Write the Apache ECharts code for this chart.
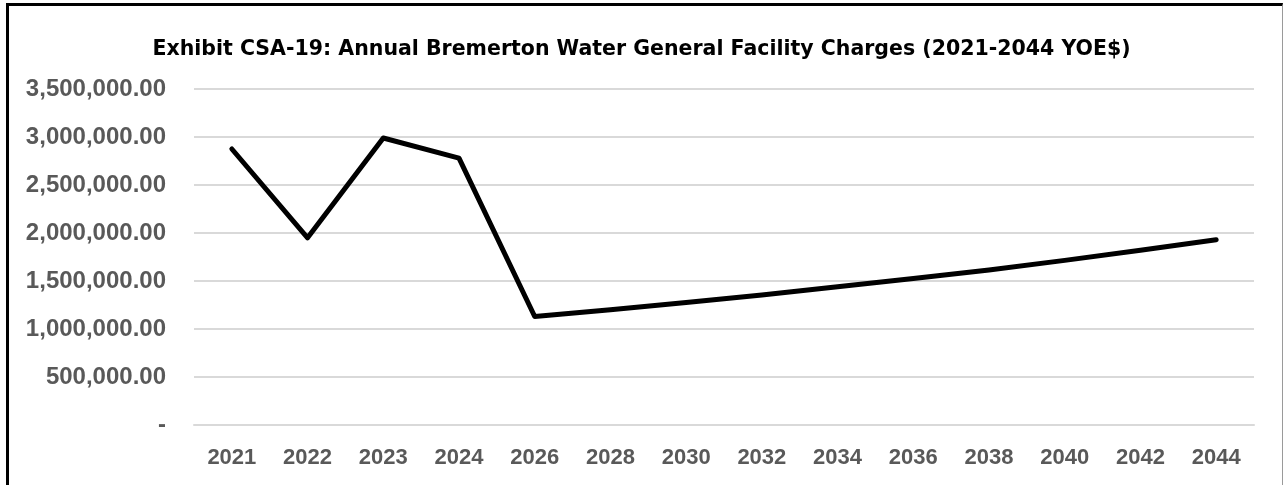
<!DOCTYPE html>
<html>
<head>
<meta charset="utf-8">
<script src="https://cdn.jsdelivr.net/npm/echarts@6/dist/echarts.min.js"></script>
<style>
  html, body { margin: 0; padding: 0; background: #fff; }
  .wrap { position: relative; width: 1283px; height: 485px; overflow: hidden; }
  #main { position: absolute; left: 0; top: 0; width: 1283px; height: 485px; }
  .frame {
    position: absolute; left: 6px; top: 3px; width: 1273px; height: 500px;
    border-left: 3px solid #000; border-top: 3px solid #000; border-right: 1px solid #9a9a9a;
    pointer-events: none;
  }
</style>
</head>
<body>
<div class="wrap">
  <div id="main"></div>
  <div class="frame"></div>
</div>
<script>
// categories on the x axis (2025, 2027... are skipped in the source)
const years = ['2021', '2022', '2023', '2024', '2026', '2028', '2030', '2032', '2034', '2036', '2038', '2040', '2042', '2044']
// annual general facility charges, YOE$
const charges = [2875000, 1950000, 2990000, 2780000, 1130000, 1200000, 1275000, 1355000, 1440000, 1525000, 1615000, 1715000, 1820000, 1930000]

const yMax = 3500000
const yStep = 500000

function money(v) {
  if (v === 0) return '-'
  const s = Math.round(v).toString().replace(/\B(?=(\d{3})+(?!\d))/g, ',')
  return s + '.00'
}

const chart = echarts.init(document.getElementById('main'))

const option = {
  animation: false,
  title: {
    text: 'Exhibit CSA-19: Annual Bremerton Water General Facility Charges (2021-2044 YOE$)',
    left: 'center',
    top: 34,
    textStyle: {
      fontFamily: 'DejaVu Sans',
      fontWeight: 'bold',
      fontSize: 20.5,
      color: '#000'
    }
  },
  grid: {
    left: 194,
    right: 29,
    top: 89,
    bottom: 60,
    containLabel: false
  },
  xAxis: {
    type: 'category',
    data: years,
    boundaryGap: true,
    axisLine: { lineStyle: { color: '#d9d9d9', width: 2 } },
    axisTick: { show: false },
    axisLabel: {
      margin: 22,
      color: '#595959',
      fontFamily: 'Liberation Sans',
      fontWeight: 'bold',
      fontSize: 22
    }
  },
  yAxis: {
    type: 'value',
    min: 0,
    max: yMax,
    interval: yStep,
    axisLine: { show: false },
    axisTick: { show: false },
    splitLine: { lineStyle: { color: '#d9d9d9', width: 2 } },
    axisLabel: {
      margin: 28,
      color: '#595959',
      fontFamily: 'Liberation Sans',
      fontWeight: 'bold',
      fontSize: 24,
      formatter: money
    }
  },
  series: [
    {
      name: 'General Facility Charges',
      type: 'line',
      data: charges,
      showSymbol: false,
      symbol: 'none',
      lineStyle: { color: '#000', width: 5, cap: 'round', join: 'round' }
    }
  ]
}

chart.setOption(option)
</script>
</body>
</html>
